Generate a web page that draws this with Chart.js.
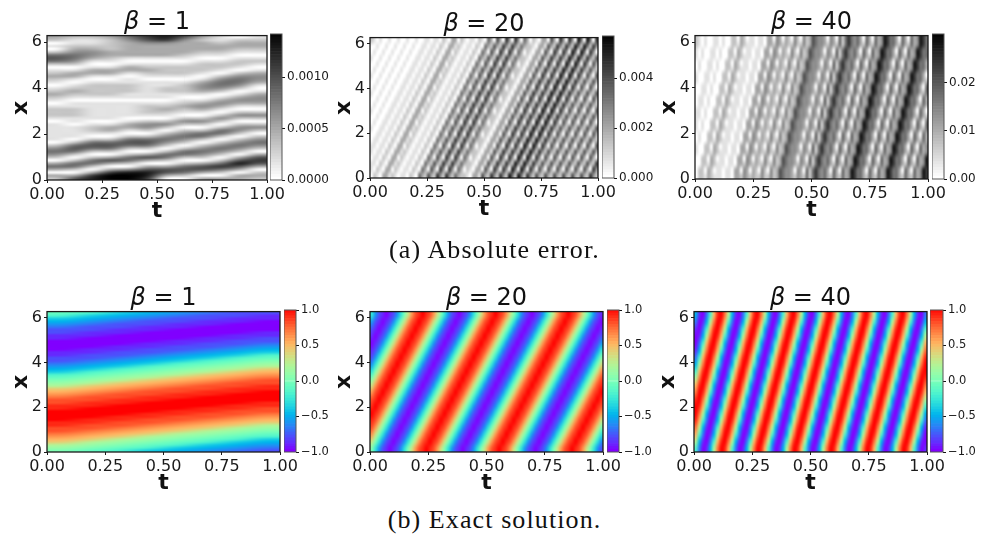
<!DOCTYPE html>
<html><head><meta charset="utf-8">
<style>
html,body{margin:0;padding:0;background:#fff;width:989px;height:537px;overflow:hidden}
#page{position:relative;width:989px;height:537px}
canvas{position:absolute}
.ttl{position:absolute;font:24px/26px "DejaVu Sans",sans-serif;color:#111;text-align:center;white-space:pre;z-index:5}
.ttl i{font-style:italic}
.cap{position:absolute;left:0;width:989px;text-align:center;font:26px/30px "Liberation Serif",serif;color:#111;letter-spacing:1.1px}
</style>
<script src="https://cdn.jsdelivr.net/npm/chart.js@4"></script>
</head><body><div id="page"></div>
<script>
// ---------- data: each character is a colour level, rows run bottom to top ----------
const tTicks = [0, 0.25, 0.5, 0.75, 1];
const xTicks = [0, 2, 4, 6];
const xMax = 6.283;
const panelTitles = ["1", "20", "40", "1", "20", "40"];
const captions = ["(a) Absolute error.", "(b) Exact solution."];

const err1Max = 0.00142, err20Max = 0.00568, err40Max = 0.0302;
const err1Ticks = [0, 0.0005, 0.001];
const err20Ticks = [0, 0.002, 0.004];
const err40Ticks = [0, 0.01, 0.02];
const exactTicks = [-1, -0.5, 0, 0.5, 1];
const colorbarStops = [0,.02,.04,.06,.08,.1,.12,.14,.16,.18,.2,.22,.24,.26,.28,.3,.32,.34,.36,.38,.4,.42,.44,.46,.48,.5,.52,.54,.56,.58,.6,.62,.64,.66,.68,.7,.72,.74,.76,.78,.8,.82,.84,.86,.88,.9,.92,.94,.96,.98,1];

// absolute error, beta = 1 : one string per time column, bottom to top
const err1Columns = [
"230353 0 24542 0 111111 0 12221 0 12321 0 12321 0 25652 0 1 0 2 3",
"63 0 2552 0 25652 0 1111 0 1122211 0 12321 0 1331 0 2455432112",
"873 0 2552 0 25652 0 1221 0 111111 0 122221 0 1331 0 134432112",
"9973 0 363 0 25652 0 1331 0 111111 0 122221 0 1331 0 123322223",
"9984 0 2552 0 25652 0 1331 0 11111 0 1122211 0 1331 0 13333345",
"78863 0 363 0 25652 0 2442 0 12221 0 111111 0 12321 0 13333467",
"0 3663 0 2552 0 24542 0 242 0 12321 0 112211 0 12221 0 13333478",
"0 25652 0 2552 0 24542 0 242 0 12321 0 12221 0 12221 0 12333346",
"3 0 3663 0 24542 0 2552 0 242 0 13431 0 134431 0 12221 0 1233323",
"3 0 25752 0 24542 0 2552 0 242 0 13431 0 245542 0 1221 0 1233211",
"33 0 36863 0 24542 0 2442 0 242 0 13431 0 245542 0 1221 0 123320",
"232 0 36763 0 24542 0 242 0 242 0 134431 0 134431 0 121 0 123321"
];

// absolute error, beta = 20 : one string per x row, bottom to top
const err20Rows = [
"0 210331210110210532632742742532210331632742742852852 742632632632632632632742",
"10 210330210110210530630740740530210330630740740850850 740630630630630630630 74",
"110 210331210110210532632742742532210331632742742852852 742632632632632632632 7",
"0 110 210330210110210530630740740530210330630740740850850 740630630630630630630",
"10 110 210331210110210532632742742532210331632742742852852 742632632632632632 63",
"110 110 210330210110210530630740740530210330630740740850850 740630630630630630 6",
"0 110110 210331210110210532632742742532210331632742742852852 742632632632632632",
"00 110110 210330210110210530630740740530210330630740740850850 740630630630630 63",
"100 110110 210331210110210532632742742532210331632742742852852 742632632632632 6",
"0 100 110110 210330210110210530630740740530210330630740740850850 740630630630630",
"00 100 110110 210331210110210532632742742532210331632742742852852 742632632632 63",
"100100 110110 210330210110210530630740740530210330630740740850850 740630630630 6",
"0 100100 110110 210331210110210532632742742532210331632742742852852 742632632632",
"00 100100 110110 210330210110210530630740740530210330630740740850850 740630630 63",
"100100100 110110 210331210110210532632742742532210331632742742852852 742632632 6",
"0 100100100 110110 210330210110210530630740740530210330630740740850850 740630630",
"00 100100100 110110 210331210110210532632742742532210331632742742852852 742632 63",
"100100100100 110110 210330210110210530630740740530210330630740740850850 740630 6",
"0 100100100100 110110 210331210110210532632742742532210331632742742852852 742632",
"00 100100100100 110110 210330210110210530630740740530210330630740740850850 740 63",
"100100100100100 110110 210331210110210532632742742532210331632742742852852 742 6",
"0 100100100100100 110110 210330210110210530630740740530210330630740740850850 740",
"00 100100100100100 110110 210331210110210532632742742532210331632742742852852 74",
"210 100100100100100 110110 210330210110210530630740740530210330630740740850850 7"
];

// absolute error, beta = 40
const err40Rows = [
"0 221321110110332432322422423654432432525754532532534875532532534875 532532534 87",
"0 220320110110330430320420423654430430525754530530534875530530534875 530530534 87",
"00 221321110110332432322422423654432432525754532532534875532532534875 532532534 8",
"00 220320110110330430320420423654430430525754530530534875530530534875 530530534 8",
"100 221321110110332432322422423654432432525754532532534875532532534875 532532534",
"100 220320110110330430320420423654430430525754530530534875530530534875 530530534",
"0 100 221321110110332432322422423654432432525754532532534875532532534875 532532 53",
"0 100 220320110110330430320420423654430430525754530530534875530530534875 530530 53",
"10 100 221321110110332432322422423654432432525754532532534875532532534875 532532 5",
"10 100 220320110110330430320420423654430430525754530530534875530530534875 530530 5",
"110 100 221321110110332432322422423654432432525754532532534875532532534875 532532",
"110 100 220320110110330430320420423654430430525754530530534875530530534875 530530",
"0 110100 221321110110332432322422423654432432525754532532534875532532534875 532 53",
"0 110100 220320110110330430320420423654430430525754530530534875530530534875 530 53",
"00 110100 221321110110332432322422423654432432525754532532534875532532534875 532 5",
"00 110100 220320110110330430320420423654430430525754530530534875530530534875 530 5",
"100 110100 221321110110332432322422423654432432525754532532534875532532534875 532",
"100 110100 220320110110330430320420423654430430525754530530534875530530534875 530",
"0 100110100 221321110110332432322422423654432432525754532532534875532532534875 53",
"0 100110100 220320110110330430320420423654430430525754530530534875530530534875 53",
"10 100110100 221321110110332432322422423654432432525754532532534875532532534875 5",
"10 100110100 220320110110330430320420423654430430525754530530534875530530534875 5",
"210 100110100 221321110110332432322422423654432432525754532532534875532532534875",
"210 100110100 220320110110330430320420423654430430525754530530534875530530534875"
];

// exact solution: letters a..u stand for -1.0 .. 1.0 in steps of 0.1
const exact1Rows = [
"kjigfedc","lkjigfed","mlkjigfe","omlkjigf","pomlkjig","qpomlkji","rqpomlkj","srqpomlk","ssrqpoml","tssrqpom",
"ttssrqpo","uttssrqp","uuttssrq","uuuttssr","uuuuttss","tuuuutts","ttuuuutt","sttuuuut","ssttuuuu","rssttuuu",
"qrssttuu","pqrssttu","opqrsstt","mopqrsst","lmopqrss","klmopqrs","jklmopqr","ijklmopq","gijklmop","fgijklmo",
"efgijklm","defgijkl","cdefgijk","ccdefgij","bccdefgi","bbccdefg","abbccdef","aabbccde","aaabbccd","aaaabbcc",
"baaaabbc","bbaaaabb","cbbaaaab","ccbbaaaa","dccbbaaa","edccbbaa","fedccbba","gfedccbb","igfedccb","jigfedcc"
];
const exact20Rows = [
"khecbabcehknqstutsqnkhecbabcehknqstutsqnkhecbabcehknqstutsqnkhec",
"nkhecbabcehknqstutsqnkhecbabcehknqstutsqnkhecbabcehknqstutsqnkhe",
"qnkhecbabcehknqstutsqnkhecbabcehknqstutsqnkhecbabcehknqstutsqnkh",
"sqnkhecbabcehknqstutsqnkhecbabcehknqstutsqnkhecbabcehknqstutsqnk",
"tsqnkhecbabcehknqstutsqnkhecbabcehknqstutsqnkhecbabcehknqstutsqn",
"utsqnkhecbabcehknqstutsqnkhecbabcehknqstutsqnkhecbabcehknqstutsq",
"tutsqnkhecbabcehknqstutsqnkhecbabcehknqstutsqnkhecbabcehknqstuts",
"stutsqnkhecbabcehknqstutsqnkhecbabcehknqstutsqnkhecbabcehknqstut",
"qstutsqnkhecbabcehknqstutsqnkhecbabcehknqstutsqnkhecbabcehknqstu",
"nqstutsqnkhecbabcehknqstutsqnkhecbabcehknqstutsqnkhecbabcehknqst",
"knqstutsqnkhecbabcehknqstutsqnkhecbabcehknqstutsqnkhecbabcehknqs",
"hknqstutsqnkhecbabcehknqstutsqnkhecbabcehknqstutsqnkhecbabcehknq",
"ehknqstutsqnkhecbabcehknqstutsqnkhecbabcehknqstutsqnkhecbabcehkn",
"cehknqstutsqnkhecbabcehknqstutsqnkhecbabcehknqstutsqnkhecbabcehk",
"bcehknqstutsqnkhecbabcehknqstutsqnkhecbabcehknqstutsqnkhecbabceh",
"abcehknqstutsqnkhecbabcehknqstutsqnkhecbabcehknqstutsqnkhecbabce",
"babcehknqstutsqnkhecbabcehknqstutsqnkhecbabcehknqstutsqnkhecbabc",
"cbabcehknqstutsqnkhecbabcehknqstutsqnkhecbabcehknqstutsqnkhecbab",
"ecbabcehknqstutsqnkhecbabcehknqstutsqnkhecbabcehknqstutsqnkhecba",
"hecbabcehknqstutsqnkhecbabcehknqstutsqnkhecbabcehknqstutsqnkhecb"
];
const exact40Rows = [
"idabfmrutpidabfmrutpidabfmrutpidabfmrutpidabfmrutpidabfmrutpidab",
"mfbadipturmfbadipturmfbadipturmfbadipturmfbadipturmfbadipturmfba",
"pidabfmrutpidabfmrutpidabfmrutpidabfmrutpidabfmrutpidabfmrutpida",
"rmfbadipturmfbadipturmfbadipturmfbadipturmfbadipturmfbadipturmfb",
"tpidabfmrutpidabfmrutpidabfmrutpidabfmrutpidabfmrutpidabfmrutpid",
"urmfbadipturmfbadipturmfbadipturmfbadipturmfbadipturmfbadipturmf",
"utpidabfmrutpidabfmrutpidabfmrutpidabfmrutpidabfmrutpidabfmrutpi",
"turmfbadipturmfbadipturmfbadipturmfbadipturmfbadipturmfbadipturm",
"rutpidabfmrutpidabfmrutpidabfmrutpidabfmrutpidabfmrutpidabfmrutp",
"pturmfbadipturmfbadipturmfbadipturmfbadipturmfbadipturmfbadiptur",
"mrutpidabfmrutpidabfmrutpidabfmrutpidabfmrutpidabfmrutpidabfmrut",
"ipturmfbadipturmfbadipturmfbadipturmfbadipturmfbadipturmfbadiptu",
"fmrutpidabfmrutpidabfmrutpidabfmrutpidabfmrutpidabfmrutpidabfmru",
"dipturmfbadipturmfbadipturmfbadipturmfbadipturmfbadipturmfbadipt",
"bfmrutpidabfmrutpidabfmrutpidabfmrutpidabfmrutpidabfmrutpidabfmr",
"adipturmfbadipturmfbadipturmfbadipturmfbadipturmfbadipturmfbadip",
"abfmrutpidabfmrutpidabfmrutpidabfmrutpidabfmrutpidabfmrutpidabfm",
"badipturmfbadipturmfbadipturmfbadipturmfbadipturmfbadipturmfbadi",
"dabfmrutpidabfmrutpidabfmrutpidabfmrutpidabfmrutpidabfmrutpidabf",
"fbadipturmfbadipturmfbadipturmfbadipturmfbadipturmfbadipturmfbad"
];

// ---------- colour maps ----------
function grayMap(f){ const g = Math.round(255 * (1 - f)); return `rgb(${g},${g},${g})`; }
function rainbowMap(f){
  const c = v => Math.round(255 * Math.max(0, Math.min(1, v)));
  return `rgb(${c(Math.abs(2*f-0.5))},${c(Math.sin(Math.PI*f))},${c(Math.cos(Math.PI*f/2))})`;
}
const grayLevel = ch => (ch.charCodeAt(0) - 48) / 9;
const rainbowLevel = ch => (ch.charCodeAt(0) - 97) / 20;
const clean = s => s.replace(/\s/g, "");

// ---------- layout ----------
const page = document.getElementById("page");
const FRAME = "#1a1a1a";
// Like imshow's interpolation: the cells the bars painted are resampled smoothly, then framed.
const framePlugin = { id: "frame", afterDatasetsDraw(chart, a, o){
  const {left, top, width, height} = chart.chartArea, ctx = chart.ctx;
  if (o.cols){
    const off = document.createElement("canvas");
    off.width = o.cols; off.height = o.rows;
    const oc = off.getContext("2d");
    oc.imageSmoothingEnabled = false;
    oc.drawImage(chart.canvas, left, top, width, height, 0, 0, o.cols, o.rows);
    ctx.save();
    ctx.imageSmoothingEnabled = true; ctx.imageSmoothingQuality = "high";
    ctx.drawImage(off, 0, 0, o.cols, o.rows, left, top, width, height);
    ctx.restore();
  }
  ctx.save(); ctx.strokeStyle = o.color || FRAME; ctx.lineWidth = o.width || 1.3;
  ctx.strokeRect(left, top, width, height); ctx.restore();
}};

function addCanvas(x, y, w, h){
  const c = document.createElement("canvas");
  c.width = w; c.height = h; c.style.left = x + "px"; c.style.top = y + "px";
  c.style.width = w + "px"; c.style.height = h + "px";
  page.appendChild(c); return c;
}

function rowsToDatasets(cols, rows, cellFn, yMin, yMax){
  const sets = [], dy = (yMax - yMin) / rows;
  for (let j = 0; j < rows; j++){
    const data = [], colors = [];
    for (let i = 0; i < cols; i++){
      data.push({x: (i + 0.5) / cols, y: [yMin + j * dy, yMin + (j + 1) * dy]});
      colors.push(cellFn(i, j));
    }
    sets.push({data, backgroundColor: colors, borderWidth: 0, grouped: false,
               barPercentage: 1, categoryPercentage: 1});
  }
  return sets;
}

function heatChart(r, grid, byColumn, levelFn, map){
  const L = 47, R = 22, T = 10, B = 44;
  const g = grid.map(clean);
  const cols = byColumn ? g.length : g[0].length;
  const rows = byColumn ? g[0].length : g.length;
  const cell = byColumn ? (i, j) => map(levelFn(g[i][j] || "0"))
                        : (i, j) => map(levelFn(g[j][i] || "0"));
  const cv = addCanvas(r.x - L, r.y - T, r.w + L + R, r.h + T + B);
  new Chart(cv, {
    type: "bar",
    data: {datasets: rowsToDatasets(cols, rows, cell, 0, xMax)},
    plugins: [framePlugin],
    options: {
      responsive: false, animation: false, events: [],
      layout: {padding: {left: 0, right: R, top: T, bottom: 0}},
      plugins: {legend: {display: false}, tooltip: {enabled: false}, title: {display: false},
                frame: {cols, rows}},
      scales: {
        x: {type: "linear", min: 0, max: 1, offset: false,
            grid: {offset: false, drawOnChartArea: false, tickLength: 3, color: FRAME},
            border: {display: false},
            afterBuildTicks: s => { s.ticks = tTicks.map(v => ({value: v})); },
            afterFit: s => { s.height = B; },
            ticks: {autoSkip: false, maxRotation: 0, padding: 2, color: "#1a1a1a",
                    font: {family: "DejaVu Sans", size: 16}, callback: v => Number(v).toFixed(2)},
            title: {display: true, text: "t", color: "#111", padding: {top: 0, bottom: 0},
                    font: {family: "DejaVu Sans", size: 22, weight: "bold"}}},
        y: {type: "linear", min: 0, max: xMax,
            grid: {drawOnChartArea: false, tickLength: 3, color: FRAME},
            border: {display: false},
            afterBuildTicks: s => { s.ticks = xTicks.map(v => ({value: v})); },
            afterFit: s => { s.width = L; },
            ticks: {autoSkip: false, padding: 2, color: "#1a1a1a",
                    font: {family: "DejaVu Sans", size: 16}, callback: v => String(v)},
            title: {display: true, text: "x", color: "#111", padding: {top: 8, bottom: 0},
                    font: {family: "DejaVu Sans", size: 22, weight: "bold"}}}
      }
    }
  });
}

function colorbar(r, map, vMin, vMax, ticks, fmt, fontSize){
  const RIGHT = 58, T = 10, B = 10;
  const cv = addCanvas(r.x, r.y - T, r.w + RIGHT, r.h + T + B);
  const stops = colorbarStops.slice(0, -1);
  new Chart(cv, {
    type: "bar",
    data: {datasets: rowsToDatasets(1, stops.length, (i, j) => map(colorbarStops[j]), vMin, vMax)},
    plugins: [framePlugin],
    options: {
      responsive: false, animation: false, events: [],
      layout: {padding: {left: 0, right: 0, top: T, bottom: B}},
      plugins: {legend: {display: false}, tooltip: {enabled: false}, title: {display: false},
                frame: {color: "#555", width: 1}},
      scales: {
        x: {type: "linear", min: 0, max: 1, offset: false, display: false},
        y: {type: "linear", position: "right", min: vMin, max: vMax,
            grid: {drawOnChartArea: false, tickLength: 3, color: "#111"},
            border: {display: false},
            afterBuildTicks: s => { s.ticks = ticks.map(v => ({value: v})); },
            afterFit: s => { s.width = RIGHT; },
            ticks: {autoSkip: false, padding: 2, color: "#1a1a1a",
                    font: {family: "DejaVu Sans", size: fontSize}, callback: fmt}}
      }
    }
  });
}

function title(r, beta){
  const d = document.createElement("div");
  d.className = "ttl";
  d.style.left = (r.x - 60) + "px"; d.style.width = (r.w + 120) + "px"; d.style.top = (r.y - 26) + "px";
  d.innerHTML = "<i>\u03B2</i> = " + beta;
  page.appendChild(d);
}
function caption(text, y){
  const d = document.createElement("div");
  d.className = "cap"; d.style.top = y + "px"; d.textContent = text; page.appendChild(d);
}

const minusFmt = v => Number(v).toFixed(1).replace("-", "\u2212");
const plots = [
  {x:47, y:34, w:220,h:146},{x:370,y:36, w:228,h:142},{x:695,y:34, w:233,h:145},
  {x:47, y:310,w:233,h:142},{x:370,y:310,w:233,h:142},{x:694,y:310,w:233,h:142}];
const bars = [
  {x:270,y:34, w:12,h:146},{x:602,y:36, w:12,h:142},{x:932,y:34, w:12,h:145},
  {x:284,y:310,w:12,h:142},{x:607,y:310,w:12,h:142},{x:930,y:310,w:13,h:142}];

heatChart(plots[0], err1Columns, true, grayLevel, grayMap);
heatChart(plots[1], err20Rows, false, grayLevel, grayMap);
heatChart(plots[2], err40Rows, false, grayLevel, grayMap);
heatChart(plots[3], exact1Rows, false, rainbowLevel, rainbowMap);
heatChart(plots[4], exact20Rows, false, rainbowLevel, rainbowMap);
heatChart(plots[5], exact40Rows, false, rainbowLevel, rainbowMap);

colorbar(bars[0], grayMap, 0, err1Max, err1Ticks, v => Number(v).toFixed(4), 12);
colorbar(bars[1], grayMap, 0, err20Max, err20Ticks, v => Number(v).toFixed(3), 12);
colorbar(bars[2], grayMap, 0, err40Max, err40Ticks, v => Number(v).toFixed(2), 12);
colorbar(bars[3], rainbowMap, -1, 1, exactTicks, minusFmt, 11.5);
colorbar(bars[4], rainbowMap, -1, 1, exactTicks, minusFmt, 11.5);
colorbar(bars[5], rainbowMap, -1, 1, exactTicks, minusFmt, 11.5);

plots.forEach((r, i) => title(r, panelTitles[i]));
caption(captions[0], 235);
caption(captions[1], 505);
</script></body></html>
